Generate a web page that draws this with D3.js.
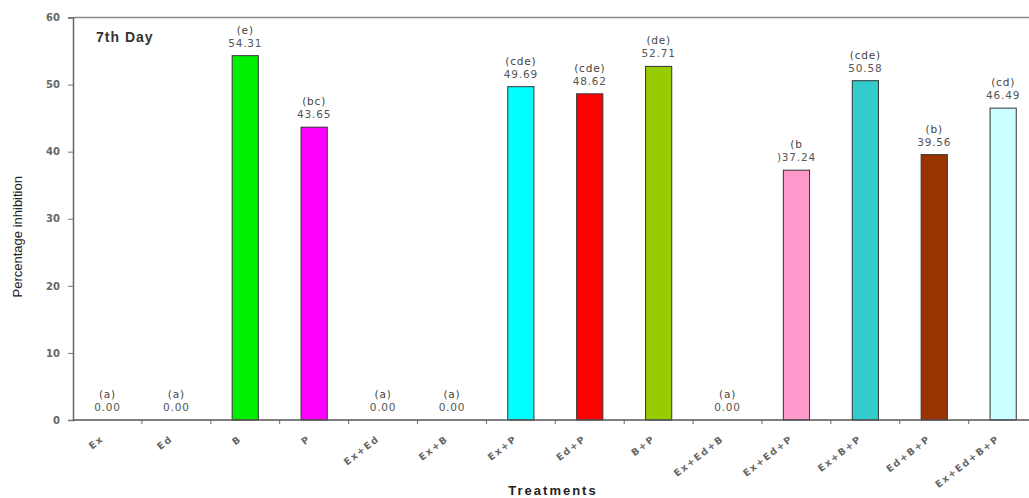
<!DOCTYPE html>
<html>
<head>
<meta charset="utf-8">
<script src="https://cdn.jsdelivr.net/npm/d3@7"></script>
<style>
  html, body { margin: 0; padding: 0; background: #fff; overflow: hidden; }
  svg { display: block; }
</style>
</head>
<body>
<div id="chart"></div>
<script>
const categories = ["Ex", "Ed", "B", "P", "Ex+Ed", "Ex+B", "Ex+P", "Ed+P", "B+P", "Ex+Ed+B", "Ex+Ed+P", "Ex+B+P", "Ed+B+P", "Ex+Ed+B+P"];
const values = [0.00, 0.00, 54.31, 43.65, 0.00, 0.00, 49.69, 48.62, 52.71, 0.00, 37.24, 50.58, 39.56, 46.49];
const valueLabels = ["0.00", "0.00", "54.31", "43.65", "0.00", "0.00", "49.69", "48.62", "52.71", "0.00", ")37.24", "50.58", "39.56", "46.49"];
const letters = ["(a)", "(a)", "(e)", "(bc)", "(a)", "(a)", "(cde)", "(cde)", "(de)", "(a)", "(b", "(cde)", "(b)", "(cd)"];
const colors = ["#ffffff", "#ffffff", "#00ee00", "#ff00ff", "#ffffff", "#ffffff", "#00ffff", "#ff0000", "#99cc00", "#ffffff", "#ff99cc", "#33cccc", "#993300", "#ccffff"];
const yTicks = [0, 10, 20, 30, 40, 50, 60];

const W = 1029, H = 498;
const mLeft = 73, mRight = 1037.6, mTop = 17.5, mBottom = 420;

const svg = d3.select("#chart").append("svg").attr("width", W).attr("height", H);

const x = d3.scaleBand().domain(categories).range([mLeft, mRight]).paddingInner(0.62).paddingOuter(0.31);
const xb = d3.scaleBand().domain(categories).range([mLeft, mRight]);
const y = d3.scaleLinear().domain([0, 60]).range([mBottom, mTop]);

// top border
svg.append("line").attr("x1", mLeft).attr("x2", mRight).attr("y1", y(60)).attr("y2", y(60))
  .attr("stroke", "#8a8a8a").attr("stroke-width", 1.6);

// bars
svg.selectAll("rect.bar").data(categories).join("rect")
  .attr("class", "bar")
  .attr("x", d => x(d))
  .attr("width", x.bandwidth())
  .attr("y", (d, i) => y(values[i]))
  .attr("height", (d, i) => y(0) - y(values[i]))
  .attr("fill", (d, i) => colors[i])
  .attr("stroke", "#333")
  .attr("stroke-width", 1)
  .attr("display", (d, i) => values[i] > 0 ? null : "none");

// value labels
const lblFont = "'DejaVu Sans', Verdana, sans-serif";
svg.selectAll("text.val").data(categories).join("text")
  .attr("class", "val")
  .attr("x", d => x(d) + x.bandwidth() / 2)
  .attr("y", (d, i) => y(values[i]) - 9)
  .attr("text-anchor", "middle")
  .attr("font-family", lblFont)
  .attr("font-size", "10.5px")
  .attr("letter-spacing", "0.8px")
  .attr("fill", "#555")
  .text((d, i) => valueLabels[i]);

svg.selectAll("text.let").data(categories).join("text")
  .attr("class", "let")
  .attr("x", d => x(d) + x.bandwidth() / 2)
  .attr("y", (d, i) => y(values[i]) - 22)
  .attr("text-anchor", "middle")
  .attr("font-family", lblFont)
  .attr("font-size", "10.5px")
  .attr("letter-spacing", "0.8px")
  .attr("fill", "#444")
  .text((d, i) => letters[i]);

// y axis
const yAxis = svg.append("g").attr("transform", `translate(${mLeft},0)`)
  .call(d3.axisLeft(y).tickValues(yTicks).tickSize(5).tickPadding(8));
yAxis.select(".domain").attr("stroke", "#666").attr("stroke-width", 1.5);
yAxis.selectAll(".tick line").attr("stroke", "#777");
yAxis.selectAll(".tick text").attr("font-family", lblFont).attr("font-size", "10px")
  .attr("font-weight", "bold").attr("fill", "#666");

// x axis line and ticks at band boundaries
svg.append("line").attr("x1", mLeft).attr("x2", mRight).attr("y1", y(0)).attr("y2", y(0))
  .attr("stroke", "#555").attr("stroke-width", 1.5);
svg.selectAll("line.xt").data(categories.slice(1)).join("line")
  .attr("class", "xt")
  .attr("x1", d => xb(d)).attr("x2", d => xb(d))
  .attr("y1", y(0)).attr("y2", y(0) + 4)
  .attr("stroke", "#666");

// x tick labels
svg.selectAll("text.xl").data(categories).join("text")
  .attr("class", "xl")
  .attr("transform", d => `translate(${xb(d) + xb.bandwidth() / 2 - 3},${y(0) + 20}) rotate(-38)`)
  .attr("text-anchor", "end")
  .attr("font-family", lblFont)
  .attr("font-size", "9.5px")
  .attr("font-weight", "bold")
  .attr("letter-spacing", "1.6px")
  .attr("fill", "#666")
  .text(d => d);

// axis titles
svg.append("text")
  .attr("transform", `translate(22,${(mTop + mBottom) / 2 + 18}) rotate(-90)`)
  .attr("text-anchor", "middle")
  .attr("font-family", "'Liberation Sans', Arial, sans-serif")
  .attr("font-size", "13px")
  .attr("fill", "#222")
  .text("Percentage inhibition");

svg.append("text")
  .attr("x", 553).attr("y", 495)
  .attr("text-anchor", "middle")
  .attr("font-family", "'Liberation Sans', Arial, sans-serif")
  .attr("font-size", "13px")
  .attr("font-weight", "bold")
  .attr("letter-spacing", "2px")
  .attr("fill", "#222")
  .text("Treatments");

svg.append("text")
  .attr("x", 96).attr("y", 42)
  .attr("font-family", "'Liberation Sans', Arial, sans-serif")
  .attr("font-size", "14px")
  .attr("font-weight", "bold")
  .attr("letter-spacing", "1px")
  .attr("fill", "#333")
  .text("7th Day");
</script>
</body>
</html>
